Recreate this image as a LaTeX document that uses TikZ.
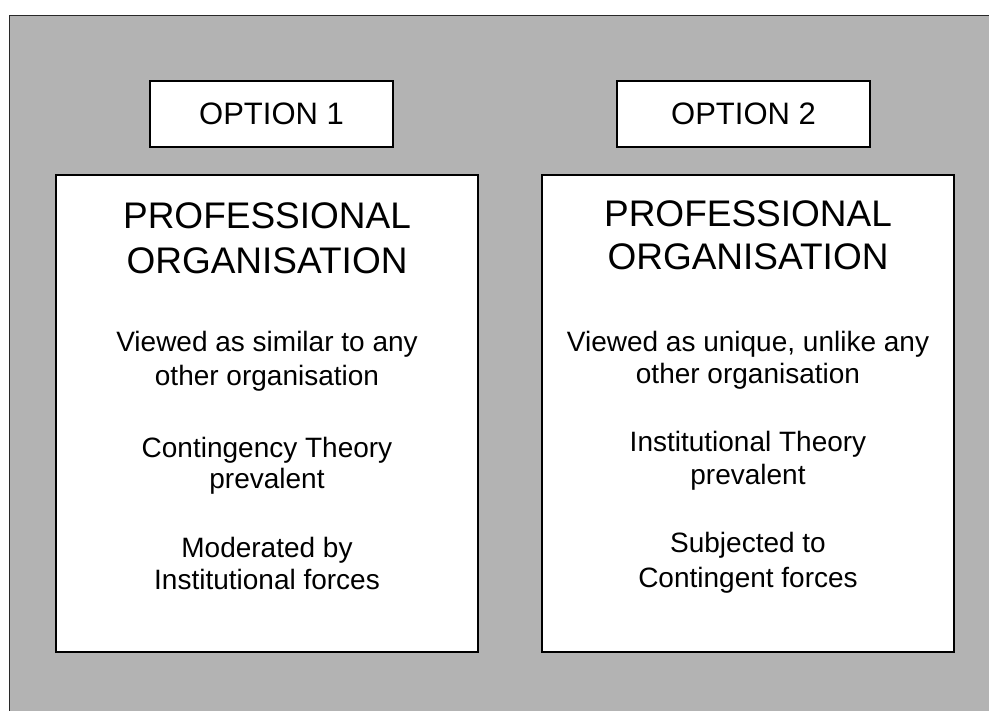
\documentclass[tikz,border=0pt]{standalone}
\usepackage{fontspec}
\setmainfont{Liberation Sans}
\definecolor{bggray}{RGB}{179,179,179}
\definecolor{edgegray}{RGB}{40,40,40}
\tikzset{
  panel/.style={draw=black, line width=1.3pt, fill=white},
  bigtxt/.style={anchor=base, inner sep=0pt, font=\fontsize{37}{45}\selectfont},
  smalltxt/.style={anchor=base, inner sep=0pt, font=\fontsize{28}{33}\selectfont},
  opttxt/.style={anchor=base, inner sep=0pt, font=\fontsize{31}{36}\selectfont}
}
\begin{document}
\begin{tikzpicture}[x=1pt,y=-1pt]
\useasboundingbox (0,0) rectangle (989,711);
\clip (0,0) rectangle (989,711);
\draw[fill=bggray, draw=edgegray, line width=1pt] (9.5,15.5) rectangle (995,720);
% option boxes
\draw[panel] (150,81) rectangle (393,147);
\draw[panel] (617,81) rectangle (870,147);
\node[opttxt] (o1) at (271.5,125) {OPTION 1};
\node[opttxt] (o2) at (743.5,125) {OPTION 2};
% main boxes
\draw[panel] (56,175) rectangle (478,652);
\draw[panel] (542,175) rectangle (954,652);
% left box text
\node[bigtxt] (l1) at (267,229) {PROFESSIONAL};
\node[bigtxt] (l2) at (267,274) {ORGANISATION};
\node[smalltxt] (l3) at (267,352) {Viewed as similar to any};
\node[smalltxt] (l4) at (267,386) {other organisation};
\node[smalltxt] (l5) at (267,457) {Contingency Theory};
\node[smalltxt] (l6) at (267,489) {prevalent};
\node[smalltxt] (l7) at (267,557) {Moderated by};
\node[smalltxt] (l8) at (267,589) {Institutional forces};
% right box text
\node[bigtxt] (r1) at (748,227) {PROFESSIONAL};
\node[bigtxt] (r2) at (748,270) {ORGANISATION};
\node[smalltxt] (r3) at (748,352) {Viewed as unique, unlike any};
\node[smalltxt] (r4) at (748,384) {other organisation};
\node[smalltxt] (r5) at (748,452) {Institutional Theory};
\node[smalltxt] (r6) at (748,485) {prevalent};
\node[smalltxt] (r7) at (748,552) {Subjected to};
\node[smalltxt] (r8) at (748,587) {Contingent forces};
\end{tikzpicture}
\end{document}
